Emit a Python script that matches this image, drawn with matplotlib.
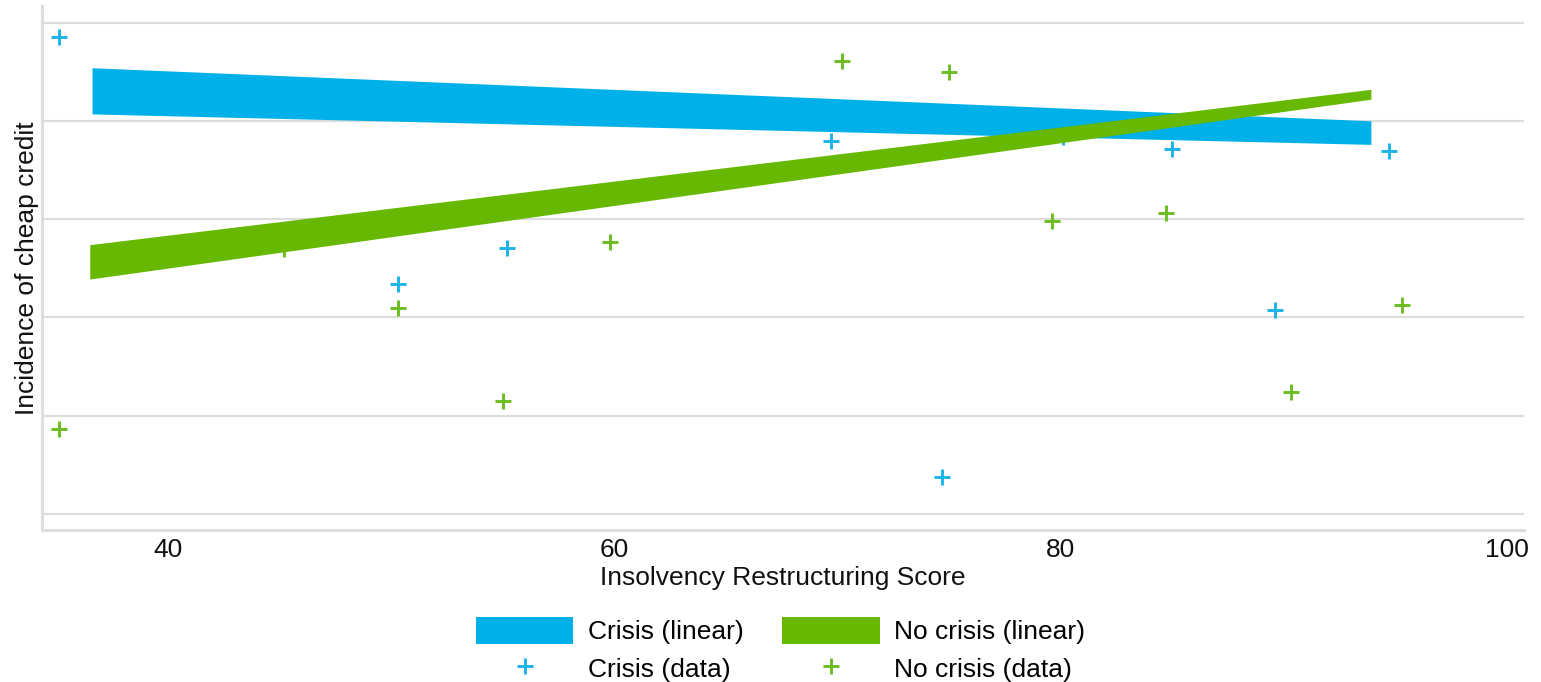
import matplotlib.pyplot as plt
from matplotlib.patches import Patch
from matplotlib.lines import Line2D

# Scatter data (y in gridline units, 0..5)
crisis_x = [35.1, 55.2, 50.3, 69.7, 80.1, 85.0, 94.7, 89.6, 74.7]
crisis_y = [4.85, 2.71, 2.34, 3.79, 3.84, 3.71, 3.69, 2.08, 0.38]

nocrisis_x = [70.2, 75.0, 79.6, 84.7, 59.8, 45.2, 50.3, 95.3, 55.0, 90.3, 35.1]
nocrisis_y = [4.61, 4.50, 2.98, 3.06, 2.77, 2.70, 2.10, 2.13, 1.15, 1.24, 0.86]

# Linear fit bands: x ends, upper and lower edge values
crisis_fit_x = [36.6, 93.9]
crisis_fit_hi = [4.54, 4.00]
crisis_fit_lo = [4.07, 3.76]

nocrisis_fit_x = [36.5, 93.9]
nocrisis_fit_hi = [2.74, 4.32]
nocrisis_fit_lo = [2.39, 4.22]

x_ticks = [40, 60, 80, 100]
y_grid = [0, 1, 2, 3, 4, 5]

blue_band = '#00b0e8'
green_band = '#66b800'
blue_pt = '#1cb3ea'
green_pt = '#6bbd22'
grey = '#dcdedd'

plt.rcParams['font.family'] = ['Liberation Sans', 'DejaVu Sans']
fs = 19

fig = plt.figure(figsize=(15.41, 6.82), dpi=100)
ax = fig.add_axes([42 / 1541, 1 - 530 / 682, (1524 - 42) / 1541, (530 - 6) / 682])

mk = dict(linestyle='none', marker='+', markersize=12, markeredgewidth=2.1)
ax.plot(crisis_x, crisis_y, color=blue_pt, zorder=2, **mk)
ax.plot(nocrisis_x, nocrisis_y, color=green_pt, zorder=2, **mk)

ax.fill_between(crisis_fit_x, crisis_fit_lo, crisis_fit_hi, color=blue_band, lw=0, zorder=3)
ax.fill_between(nocrisis_fit_x, nocrisis_fit_lo, nocrisis_fit_hi, color=green_band, lw=0, zorder=4)

ax.set_xlim(34.36, 100.76)
ax.set_ylim(-0.163, 5.168)
ax.set_xticks(x_ticks)
ax.set_yticks(y_grid)
ax.set_yticklabels([])
ax.tick_params(axis='both', length=0, labelsize=fs, colors='#111111')
ax.tick_params(axis='x', pad=6)
ax.tick_params(axis='y', pad=0)
ax.grid(axis='y', color=grey, linewidth=1.6, zorder=0)
ax.set_axisbelow(True)

for s in ['top', 'right']:
    ax.spines[s].set_visible(False)
for s in ['left', 'bottom']:
    ax.spines[s].set_color(grey)
    ax.spines[s].set_linewidth(2.2)

ax.set_xlabel('Insolvency Restructuring Score', fontsize=fs, labelpad=3, color='#111111')
ax.set_ylabel('Incidence of cheap credit', fontsize=fs, labelpad=2, color='#111111')

handles = [
    Patch(facecolor=blue_band, edgecolor='none'),
    Line2D([], [], color=blue_pt, **mk),
    Patch(facecolor=green_band, edgecolor='none'),
    Line2D([], [], color=green_pt, **mk),
]
labels = ['Crisis (linear)', 'Crisis (data)', 'No crisis (linear)', 'No crisis (data)']
fig.legend(handles, labels, ncol=2, loc='center', bbox_to_anchor=(0.5065, 0.048),
           frameon=False, fontsize=fs, handlelength=3.7, handleheight=1.2,
           handletextpad=0.55, columnspacing=1.45, labelspacing=0.4, borderpad=0)

fig.savefig('out.png', dpi=100)
